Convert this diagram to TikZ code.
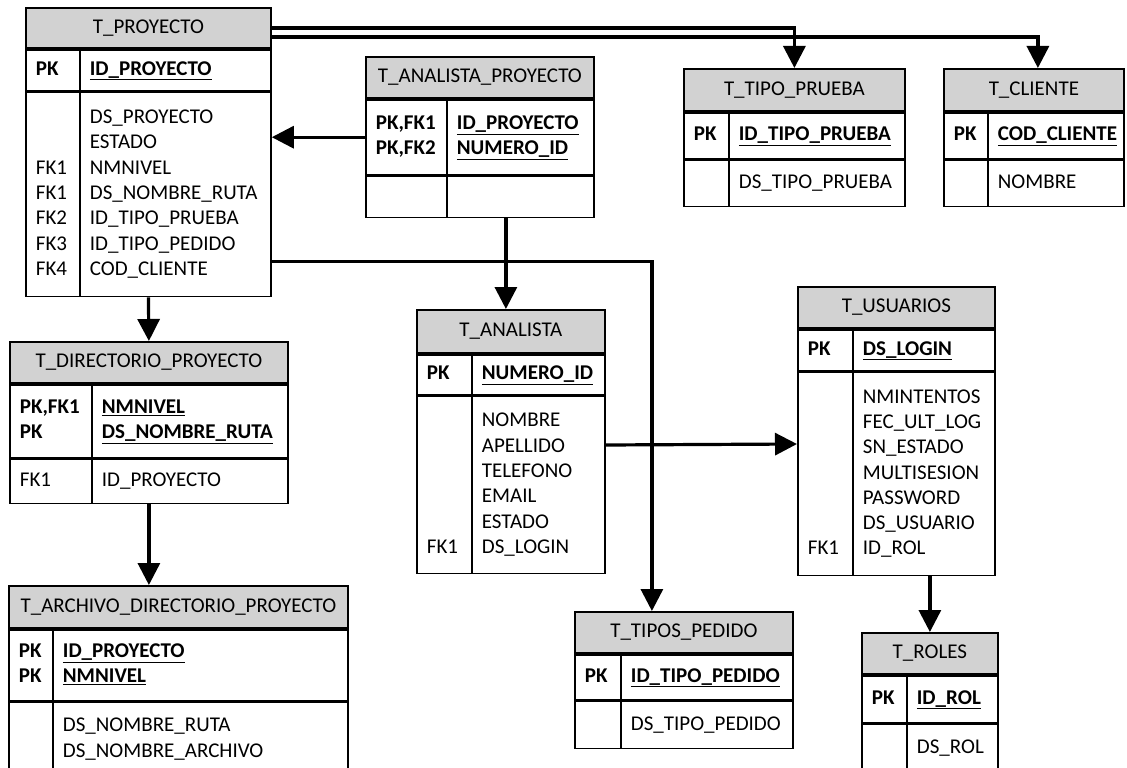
\documentclass[tikz,border=0pt]{standalone}
\usepackage{fontspec}
\setmainfont{Carlito}
\usepackage{tikz}
\usetikzlibrary{positioning, arrows.meta, calc}
\newcommand{\fieldrows}[2]{\begin{tabular}{@{\hspace{10bp}}p{#1}@{\hspace{18bp}}l@{}}#2\end{tabular}}

\begin{document}
\begin{tikzpicture}[
    x=1bp, y=-1bp,
    tblhead/.style={rectangle, draw, line width=1.8bp, fill=gray!35, anchor=north west, inner sep=0pt, font=\fontsize{21bp}{25.3bp}\selectfont},
    fieldbox/.style={rectangle, draw, line width=1.8bp, inner sep=0pt, font=\fontsize{21bp}{25.3bp}\selectfont},
    divline/.style={line width=1.8bp},
    arrow/.style={-{Triangle[width=22bp,length=22bp]}, line width=3.2bp}
]
    \useasboundingbox (0,0) rectangle (1127,768);
    \clip (0,0) rectangle (1127,768);

    % T_PROYECTO
    \node[tblhead, minimum width=245bp, minimum height=40bp] (proy) at (25,7) {T\_PROYECTO};
    \node[fieldbox, text width=245bp, minimum height=41bp, below=0pt of proy] (proy-pk)
        {\fieldrows{36bp}{\textbf{PK} & \textbf{\underline{ID\_PROYECTO}}}};
    \node[fieldbox, text width=245bp, minimum height=204bp, below=0pt of proy-pk] (proy-at)
        {\fieldrows{36bp}{ & DS\_PROYECTO\\ & ESTADO\\ FK1 & NMNIVEL\\ FK1 & DS\_NOMBRE\_RUTA\\
          FK2 & ID\_TIPO\_PRUEBA\\ FK3 & ID\_TIPO\_PEDIDO\\ FK4 & COD\_CLIENTE}};
    \draw[divline] ([xshift=55bp]proy-pk.north west) -- ([xshift=55bp]proy-at.south west);

    % T_ANALISTA_PROYECTO
    \node[tblhead, minimum width=228bp, minimum height=41bp] (ap) at (365,56) {T\_ANALISTA\_PROYECTO};
    \node[fieldbox, text width=228bp, minimum height=75bp, below=0pt of ap] (ap-pk)
        {\fieldrows{63bp}{\textbf{PK,FK1} & \textbf{\underline{ID\_PROYECTO}}\\ \textbf{PK,FK2} & \textbf{\underline{NUMERO\_ID}}}};
    \node[fieldbox, text width=228bp, minimum height=41bp, below=0pt of ap-pk] (ap-at) {};
    \draw[divline] ([xshift=82bp]ap-pk.north west) -- ([xshift=82bp]ap-at.south west);

    % T_TIPO_PRUEBA
    \node[tblhead, minimum width=221bp, minimum height=42bp] (tp) at (683,68) {T\_TIPO\_PRUEBA};
    \node[fieldbox, text width=221bp, minimum height=46bp, below=0pt of tp] (tp-pk)
        {\fieldrows{27bp}{\textbf{PK} & \textbf{\underline{ID\_TIPO\_PRUEBA}}}};
    \node[fieldbox, text width=221bp, minimum height=46bp, below=0pt of tp-pk] (tp-at)
        {\fieldrows{27bp}{ & DS\_TIPO\_PRUEBA}};
    \draw[divline] ([xshift=46bp]tp-pk.north west) -- ([xshift=46bp]tp-at.south west);

    % T_CLIENTE
    \node[tblhead, minimum width=180bp, minimum height=42bp] (cli) at (943,68) {T\_CLIENTE};
    \node[fieldbox, text width=180bp, minimum height=46bp, below=0pt of cli] (cli-pk)
        {\fieldrows{26bp}{\textbf{PK} & \textbf{\underline{COD\_CLIENTE}}}};
    \node[fieldbox, text width=180bp, minimum height=46bp, below=0pt of cli-pk] (cli-at)
        {\fieldrows{26bp}{ & NOMBRE}};
    \draw[divline] ([xshift=45bp]cli-pk.north west) -- ([xshift=45bp]cli-at.south west);

    % T_DIRECTORIO_PROYECTO
    \node[tblhead, minimum width=278bp, minimum height=41bp] (dir) at (9,341) {T\_DIRECTORIO\_PROYECTO};
    \node[fieldbox, text width=278bp, minimum height=73bp, below=0pt of dir] (dir-pk)
        {\fieldrows{64bp}{\textbf{PK,FK1} & \textbf{\underline{NMNIVEL}}\\ \textbf{PK} & \textbf{\underline{DS\_NOMBRE\_RUTA}}}};
    \node[fieldbox, text width=278bp, minimum height=44bp, below=0pt of dir-pk] (dir-at)
        {\fieldrows{64bp}{FK1 & ID\_PROYECTO}};
    \draw[divline] ([xshift=83bp]dir-pk.north west) -- ([xshift=83bp]dir-at.south west);

    % T_ARCHIVO_DIRECTORIO_PROYECTO
    \node[tblhead, minimum width=339bp, minimum height=42bp] (arch) at (8,585) {T\_ARCHIVO\_DIRECTORIO\_PROYECTO};
    \node[fieldbox, text width=339bp, minimum height=71bp, below=0pt of arch] (arch-pk)
        {\fieldrows{26bp}{\textbf{PK} & \textbf{\underline{ID\_PROYECTO}}\\ \textbf{PK} & \textbf{\underline{NMNIVEL}}}};
    \node[fieldbox, text width=339bp, minimum height=74bp, below=0pt of arch-pk] (arch-at)
        {\fieldrows{26bp}{ & DS\_NOMBRE\_RUTA\\ & DS\_NOMBRE\_ARCHIVO}};
    \draw[divline] ([xshift=45bp]arch-pk.north west) -- ([xshift=45bp]arch-at.south west);

    % T_ANALISTA
    \node[tblhead, minimum width=188bp, minimum height=43bp] (ana) at (416,309) {T\_ANALISTA};
    \node[fieldbox, text width=188bp, minimum height=40bp, below=0pt of ana] (ana-pk)
        {\fieldrows{37bp}{\textbf{PK} & \textbf{\underline{NUMERO\_ID}}}};
    \node[fieldbox, text width=188bp, minimum height=177bp, below=0pt of ana-pk] (ana-at)
        {\fieldrows{37bp}{ & NOMBRE\\ & APELLIDO\\ & TELEFONO\\ & EMAIL\\ & ESTADO\\ FK1 & DS\_LOGIN}};
    \draw[divline] ([xshift=56bp]ana-pk.north west) -- ([xshift=56bp]ana-at.south west);

    % T_TIPOS_PEDIDO
    \node[tblhead, minimum width=218bp, minimum height=41bp] (ped) at (574,611) {T\_TIPOS\_PEDIDO};
    \node[fieldbox, text width=218bp, minimum height=45bp, below=0pt of ped] (ped-pk)
        {\fieldrows{28bp}{\textbf{PK} & \textbf{\underline{ID\_TIPO\_PEDIDO}}}};
    \node[fieldbox, text width=218bp, minimum height=47bp, below=0pt of ped-pk] (ped-at)
        {\fieldrows{28bp}{ & DS\_TIPO\_PEDIDO}};
    \draw[divline] ([xshift=47bp]ped-pk.north west) -- ([xshift=47bp]ped-at.south west);

    % T_USUARIOS
    \node[tblhead, minimum width=197bp, minimum height=41bp] (usu) at (797,286) {T\_USUARIOS};
    \node[fieldbox, text width=197bp, minimum height=41bp, below=0pt of usu] (usu-pk)
        {\fieldrows{37bp}{\textbf{PK} & \textbf{\underline{DS\_LOGIN}}}};
    \node[fieldbox, text width=197bp, minimum height=203bp, below=0pt of usu-pk] (usu-at)
        {\fieldrows{37bp}{ & NMINTENTOS\\ & FEC\_ULT\_LOG\\ & SN\_ESTADO\\ & MULTISESION\\ & PASSWORD\\
          & DS\_USUARIO\\ FK1 & ID\_ROL}};
    \draw[divline] ([xshift=56bp]usu-pk.north west) -- ([xshift=56bp]usu-at.south west);

    % T_ROLES
    \node[tblhead, minimum width=136bp, minimum height=41bp] (rol) at (861,632) {T\_ROLES};
    \node[fieldbox, text width=136bp, minimum height=47bp, below=0pt of rol] (rol-pk)
        {\fieldrows{27bp}{\textbf{PK} & \textbf{\underline{ID\_ROL}}}};
    \node[fieldbox, text width=136bp, minimum height=47bp, below=0pt of rol-pk] (rol-at)
        {\fieldrows{27bp}{ & DS\_ROL}};
    \draw[divline] ([xshift=46bp]rol-pk.north west) -- ([xshift=46bp]rol-at.south west);

    % Relations
    \draw[arrow] ([yshift=-21bp]proy.north east) -| (tp.north);
    \draw[arrow] ([yshift=-30bp]proy.north east) -| ([xshift=4bp]cli.north);
    \draw[arrow] (ap-pk.west) -- (ap-pk.west -| proy-at.east);
    \draw[arrow] ([xshift=-5bp]ana.north |- ap-at.south) -- ([xshift=-5bp]ana.north);
    \draw[arrow] ([yshift=36bp]proy-at.south east) -| ([xshift=-32bp]ped.north);
    \draw[arrow] ([yshift=40bp]ana-at.east) -- ([yshift=30bp]usu-at.west);
    \draw[arrow] (rol.north |- usu-at.south) -- (rol.north);
    \draw[arrow] (proy-at.south) -- (dir.north);
    \draw[arrow] (dir-at.south) -- (dir-at.south |- arch.north);
\end{tikzpicture}
\end{document}
